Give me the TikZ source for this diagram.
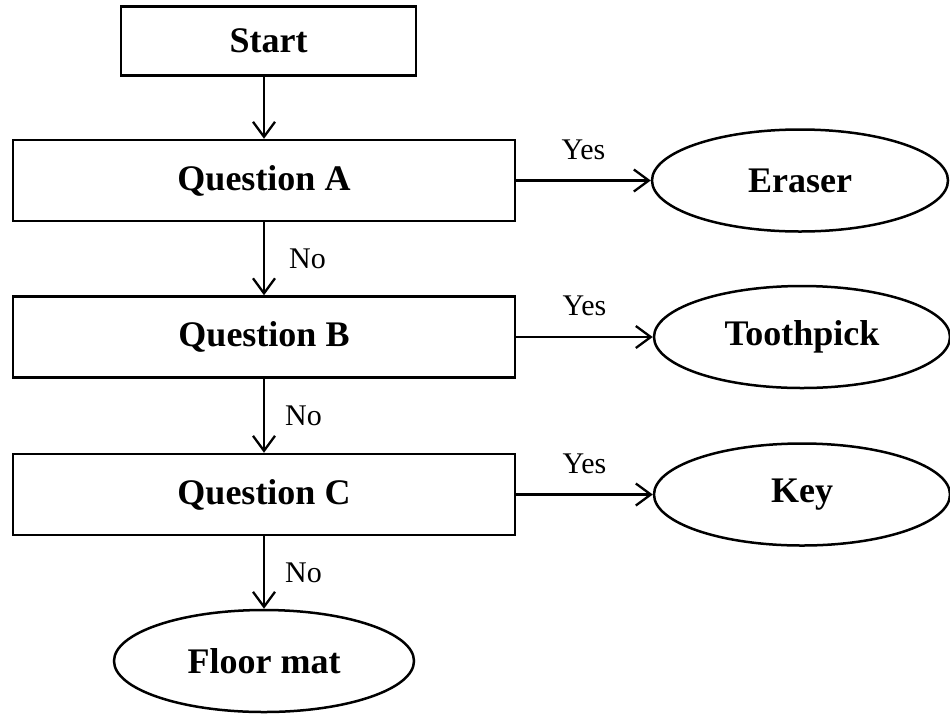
\documentclass[tikz,border=0pt]{standalone}
\usepackage{fontspec}
\setmainfont{Liberation Serif}
\usetikzlibrary{arrows.meta,shapes.geometric}
\begin{document}
\begin{tikzpicture}[x=1pt,y=-1pt,
  every node/.style={inner sep=0pt},
  box/.style={draw,line width=2.5pt,rectangle,font=\fontsize{36}{40}\selectfont\bfseries},
  qbox/.style={box,minimum width=502pt,minimum height=81pt},
  oval/.style={draw,line width=2.5pt,ellipse,minimum width=296pt,minimum height=102pt,font=\fontsize{36}{40}\selectfont\bfseries},
  arr/.style={line width=2.3pt,-{Straight Barb[length=15pt,width=22pt,line width=2.3pt]}},
  lbl/.style={font=\fontsize{30}{34}\selectfont}
]
\useasboundingbox (0,0) rectangle (950,713);
\node[box,minimum width=295pt,minimum height=69pt] (start) at (268.5,41) {Start};
\node[qbox] (qa) at (264,180.5) {Question A};
\node[qbox] (qb) at (264,337) {Question B};
\node[qbox] (qc) at (264,494.5) {Question C};
\node[oval] (eraser) at (800,180.5) {Eraser};
\node[oval] (tooth) at (802,337) {Toothpick};
\node[oval] (key) at (802,494.5) {Key};
\node[oval,minimum width=300pt] (floor) at (264,661) {Floor mat};
\draw[arr] (start.south -| qa.north) -- (qa.north);
\draw[arr] (qa.south) -- node[lbl,anchor=west,xshift=24pt] {No} (qb.north);
\draw[arr] (qb.south) -- node[lbl,anchor=west,xshift=20pt] {No} (qc.north);
\draw[arr] (qc.south) -- node[lbl,anchor=west,xshift=20pt] {No} (floor.north);
\draw[arr] (qa.east) -- node[lbl,anchor=south,yshift=20pt] {Yes} (eraser.west);
\draw[arr] (qb.east) -- node[lbl,anchor=south,yshift=20pt] {Yes} (tooth.west);
\draw[arr] (qc.east) -- node[lbl,anchor=south,yshift=20pt] {Yes} (key.west);
\end{tikzpicture}
\end{document}
